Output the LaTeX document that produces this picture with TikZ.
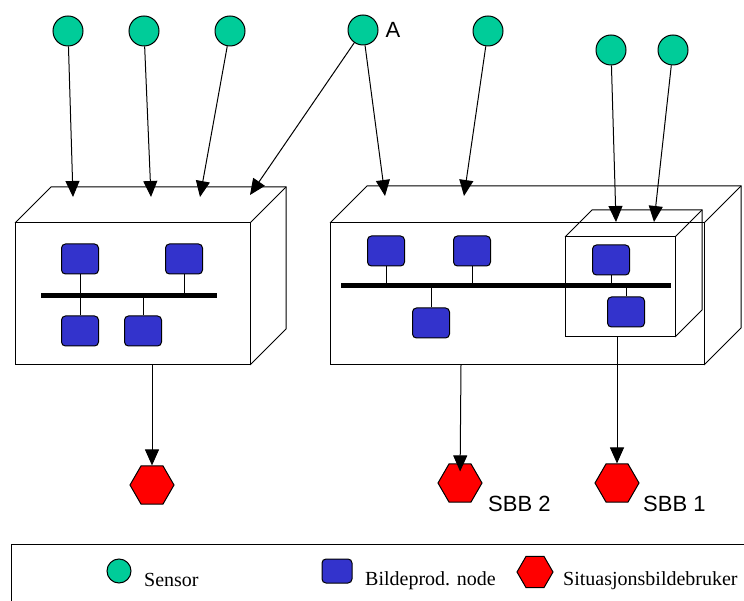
\documentclass[tikz,border=0pt]{standalone}
\usepackage{fontspec}
\setmainfont{Liberation Serif}
\newfontfamily\arialfont{Liberation Sans}
\usetikzlibrary{arrows.meta,shapes.geometric,positioning}

\definecolor{sensorgreen}{RGB}{0,204,153}
\definecolor{nodeblue}{RGB}{51,51,204}
\definecolor{userred}{RGB}{255,0,0}

\tikzset{
	sensor/.style={circle,draw=black,fill=sensorgreen,minimum size=30pt,inner sep=0pt,line width=1pt},
	bnode/.style={rectangle,rounded corners=4pt,draw=black,fill=nodeblue,minimum width=37pt,minimum height=30pt,inner sep=0pt,line width=1pt},
	user/.style={regular polygon,regular polygon sides=6,draw=black,fill=userred,minimum size=44pt,inner sep=0pt,line width=1pt},
	feed/.style={-{Triangle[length=16pt,width=14pt]},line width=1pt},
	boxline/.style={line width=1pt},
	bus/.style={line width=5pt},
	stub/.style={line width=1pt},
	lbl/.style={font=\arialfont\fontsize{22}{26}\selectfont,inner sep=0pt},
	legtext/.style={font=\fontsize{20}{24}\selectfont,inner sep=0pt,anchor=base west}
}

% cube: x, y, width, height, depth
\newcommand{\cubebox}[5]{%
	\draw[boxline] (#1,#2) rectangle ++(#3,#4);
	\draw[boxline] (#1,#2) -- ++(#5,-#5) -- ++(#3,0) -- ++(0,#4) -- ++(-#5,#5);
	\draw[boxline] (#1+#3,#2) -- ++(#5,-#5);
}

\begin{document}
\begin{tikzpicture}[x=1pt,y=-1pt]
	\useasboundingbox (0,0) rectangle (744,601);
	\clip (0,0) rectangle (744,601);

	% boxes
	\cubebox{15}{223}{235}{142}{36}
	\cubebox{330}{223}{374}{142}{37}
	\cubebox{565}{237}{110}{100}{27}

	% sensors
	\node[sensor] (s1) at (68,31) {};
	\node[sensor] (s2) at (144,31) {};
	\node[sensor] (s3) at (230,31) {};
	\node[sensor] (sA) at (363,30) {};
	\node[lbl,right=7pt of sA] (labA) {A};
	\node[sensor] (s5) at (488,31) {};
	\node[sensor] (s6) at (611,50) {};
	\node[sensor] (s7) at (673,50) {};

	% arrow targets on the boxes
	\coordinate (t1) at (73,197);
	\coordinate (t2) at (151,197);
	\coordinate (t3) at (200,197);
	\coordinate (t4) at (250,195);
	\coordinate (t5) at (385,196);
	\coordinate (t6) at (464,196);
	\coordinate (t7) at (616,222);
	\coordinate (t8) at (654,222);

	\draw[feed] (s1) -- (t1);
	\draw[feed] (s2) -- (t2);
	\draw[feed] (s3) -- (t3);
	\draw[feed] (sA) -- (t4);
	\draw[feed] (sA) -- (t5);
	\draw[feed] (s5) -- (t6);
	\draw[feed] (s6) -- (t7);
	\draw[feed] (s7) -- (t8);

	% left network
	\coordinate (lbusW) at (41,296);
	\coordinate (lbusE) at (217,296);
	\draw[bus] (lbusW) -- (lbusE);
	\node[bnode] (b1) at (80,259) {};
	\node[bnode] (b2) at (184,259) {};
	\node[bnode] (b3) at (80,331) {};
	\node[bnode] (b4) at (143,331) {};
	\draw[stub] (b1.south) -- (b1.south |- lbusW);
	\draw[stub] (b2.south) -- (b2.south |- lbusW);
	\draw[stub] (b3.north) -- (b3.north |- lbusW);
	\draw[stub] (b4.north) -- (b4.north |- lbusW);

	% right network
	\coordinate (rbusW) at (341,286);
	\coordinate (rbusE) at (671,286);
	\draw[bus] (rbusW) -- (rbusE);
	\node[bnode] (b5) at (386,251) {};
	\node[bnode] (b6) at (472,251) {};
	\node[bnode] (b7) at (431,323) {};
	\node[bnode] (b8) at (611,260) {};
	\node[bnode] (b9) at (626,312) {};
	\draw[stub] (b5.south) -- (b5.south |- rbusW);
	\draw[stub] (b6.south) -- (b6.south |- rbusW);
	\draw[stub] (b7.north) -- (b7.north |- rbusW);
	\draw[stub] (b8.south) -- (b8.south |- rbusW);
	\draw[stub] (b9.north) -- (b9.north |- rbusW);

	% users
	\node[user] (u1) at (152,485) {};
	\node[user] (u2) at (460,483) {};
	\node[user] (u3) at (617,483) {};
	\node[lbl,anchor=base west] (sbb2) at (488,511) {SBB 2};
	\node[lbl,anchor=base west] (sbb1) at (643,511) {SBB 1};

	\coordinate (d1) at (152,365);
	\coordinate (d2) at (461,365);
	\coordinate (d3) at (617,337);
	\draw[feed] (d1) -- (u1);
	\draw[feed,shorten >=-8pt] (d2) -- (u2);
	\draw[feed] (d3) -- (u3);

	% legend
	\draw[boxline] (11,544) rectangle (760,620);
	\node[sensor,minimum size=24pt] (legS) at (119,571) {};
	\node[legtext] (legSt) at (144,586) {Sensor};
	\node[bnode,minimum width=30pt,minimum height=24pt] (legB) at (337,571) {};
	\node[legtext] (legBt) at (365,585) {Bildeprod. node};
	\node[user,minimum size=36pt] (legU) at (535,572) {};
	\node[legtext] (legUt) at (563,585) {Situasjonsbildebruker};
\end{tikzpicture}
\end{document}
